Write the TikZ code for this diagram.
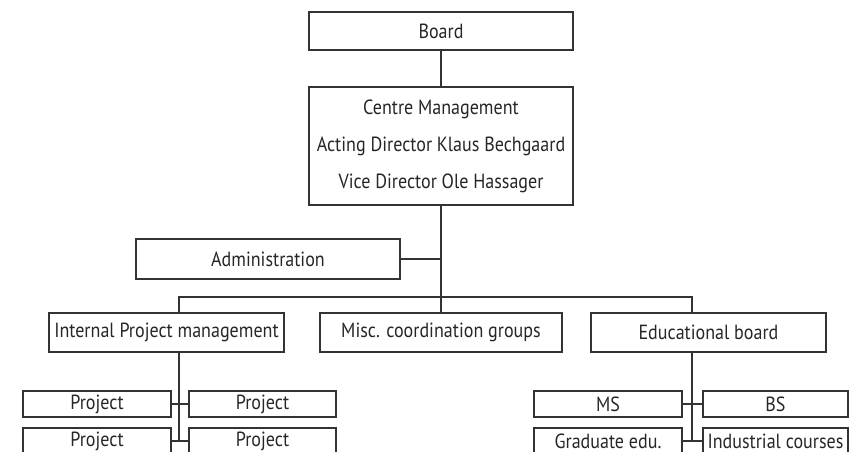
\documentclass[tikz,border=0pt]{standalone}
\usepackage{fontspec}
\setmainfont[FakeStretch=0.88]{PT Sans}

\tikzset{
  orgbox/.style={draw=black!80, line width=1.2pt, inner sep=0pt, text=black!85, font=\fontsize{20.5}{37}\selectfont, align=center},
  orgline/.style={draw=black!80, line width=1.2pt}
}

\begin{document}
\begin{tikzpicture}[x=1pt, y=-1pt]
\clip (0,0) rectangle (852,451);
\useasboundingbox (0,0) rectangle (852,451);
% top of the chart
\node[orgbox, minimum width=264pt, minimum height=38pt] (board) at (441,31) {Board};
\node[orgbox, minimum width=264pt, minimum height=118pt] (centre) at (441,146)
  {Centre Management\\Acting Director Klaus Bechgaard\\Vice Director Ole Hassager};
\node[orgbox, minimum width=264pt, minimum height=40pt] (admin) at (268,259) {Administration};
% second level
\node[orgbox, minimum width=235pt, minimum height=39pt] (ipm) at (166.5,332.5) {Internal Project management};
\node[orgbox, minimum width=242pt, minimum height=39pt] (misc) at (441,332.5) {Misc. coordination groups};
\node[orgbox, minimum width=235pt, minimum height=39pt] (edu) at (708.5,332.5) {Educational board};
% projects
\node[orgbox, minimum width=148pt, minimum height=26pt] (proja) at (97,404) {Project};
\node[orgbox, minimum width=147pt, minimum height=26pt] (projb) at (262.5,404) {Project};
\node[orgbox, minimum width=148pt, minimum height=26pt] (projc) at (97,441) {Project};
\node[orgbox, minimum width=147pt, minimum height=26pt] (projd) at (262.5,441) {Project};
% education
\node[orgbox, minimum width=148pt, minimum height=26pt] (ms) at (608,404) {MS};
\node[orgbox, minimum width=145pt, minimum height=26pt] (bs) at (775.5,404) {BS};
\node[orgbox, minimum width=148pt, minimum height=26pt] (grad) at (608,441) {Graduate edu.};
\node[orgbox, minimum width=145pt, minimum height=26pt] (ind) at (775.5,441) {Industrial courses};

\coordinate (busl) at (179,297);
\coordinate (busr) at (692,297);

\draw[orgline] (board) -- (centre);
\draw[orgline] (centre.south) -- (misc.north);
\draw[orgline] (admin.east) -- (admin.east -| centre.south);
\draw[orgline] (ipm.north -| busl) -- (busl) -- (busr) -- (edu.north -| busr);
\draw[orgline] (ipm.south -| busl) -- (projc.east -| busl);
\draw[orgline] (proja) -- (projb);
\draw[orgline] (projc) -- (projd);
\draw[orgline] (edu.south -| busr) -- (grad.east -| busr);
\draw[orgline] (ms) -- (bs);
\draw[orgline] (grad) -- (ind);
\end{tikzpicture}
\end{document}
